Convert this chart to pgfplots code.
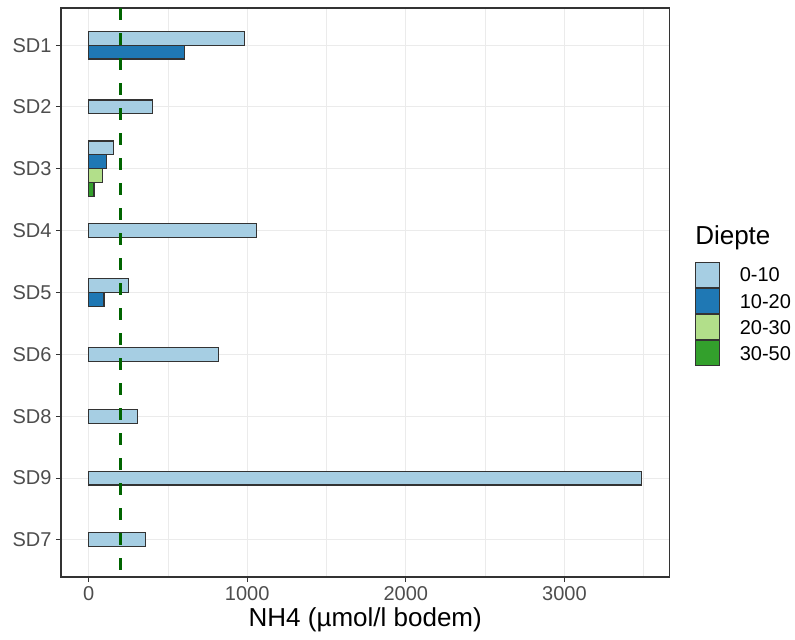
\documentclass[border=0pt]{standalone}
\usepackage{pgfplots}
\pgfplotsset{compat=1.18}
\usepackage{fontspec}
\setmainfont{Liberation Sans}
\definecolor{cA}{HTML}{A6CEE3}
\definecolor{cB}{HTML}{1F78B4}
\definecolor{cC}{HTML}{B2DF8A}
\definecolor{cD}{HTML}{33A02C}
\definecolor{dgreen}{HTML}{006400}
\definecolor{gridc}{HTML}{EBEBEB}
\definecolor{txtc}{HTML}{4D4D4D}
\definecolor{brd}{HTML}{333333}
\pgfplotsset{
  boxlegend/.style={legend image code/.code={\draw[##1] (0pt,-9.375pt) rectangle (18pt,9.375pt); \path[draw=none,fill=none] (0pt,0pt) -- (33pt,0pt);}},
  mybar/.style={xbar, bar width=0.225, bar shift=0pt, draw=brd, line width=0.8pt, boxlegend},
}
\begin{document}
\begin{tikzpicture}
\useasboundingbox (-45.75pt,-46.5pt) rectangle (550.5pt,432.75pt);
\begin{axis}[
  scale only axis,
  width=456.4pt, height=426.75pt,
  xmin=-174, xmax=3663,
  ymin=0.4, ymax=9.6, y dir=reverse,
  xtick={0,1000,2000,3000},
  minor xtick={500,1500,2500,3500},
  ytick={1,2,3,4,5,6,7,8,9},
  yticklabels={SD1,SD2,SD3,SD4,SD5,SD6,SD8,SD9,SD7},
  scaled x ticks=false,
  /pgf/number format/assume math mode=true,
  /pgf/number format/set thousands separator={},
  tick pos=left,
  tick align=outside,
  major tick length=3.75pt,
  minor tick length=0pt,
  tick style={draw=brd, line width=0.8pt},
  axis line style={draw=brd, line width=0.9pt},
  xmajorgrids, xminorgrids, ymajorgrids,
  major grid style={draw=gridc, line width=0.8pt},
  minor grid style={draw=gridc, line width=0.5pt},
  tick label style={font=\fontsize{15}{18}\selectfont, text=txtc},
  xticklabel style={inner ysep=3.5pt},
  yticklabel style={inner xsep=3.2pt},
  xlabel={NH4 (µmol/l bodem)},
  xlabel style={font=\fontsize{19.5}{23}\selectfont, at={(rel axis cs:0.5,0)}, anchor=base, yshift=-37.3pt},
  legend style={at={(1.0419,0.5542)}, anchor=north west, draw=none, fill=none,
    inner sep=0pt, row sep=0pt, font=\fontsize{15}{18}\selectfont,
    nodes={inner sep=0pt, text depth=0pt}},
  legend cell align=left,
]
\addplot[mybar, fill=cA]
  coordinates {(981,0.8875) (403,2) (155,2.6625) (1059,4) (254,4.8875) (818,6) (306,7) (3489,8) (361,9)};
\addlegendentry{0-10}
\addplot[mybar, fill=cB]
  coordinates {(604,1.1125) (111,2.8875) (97,5.1125)};
\addlegendentry{10-20}
\addplot[mybar, fill=cC]
  coordinates {(86,3.1125)};
\addlegendentry{20-30}
\addplot[mybar, fill=cD]
  coordinates {(34,3.3375)};
\addlegendentry{30-50}
\addplot[forget plot, draw=dgreen, line width=2.25pt, dash pattern=on 9pt off 9.75pt]
  coordinates {(200,0.4) (200,9.6)};
\end{axis}
\node[anchor=base west, inner sep=0pt, font=\fontsize{19.5}{23}\selectfont] at (475.5pt,249pt) {Diepte};
\end{tikzpicture}
\end{document}
